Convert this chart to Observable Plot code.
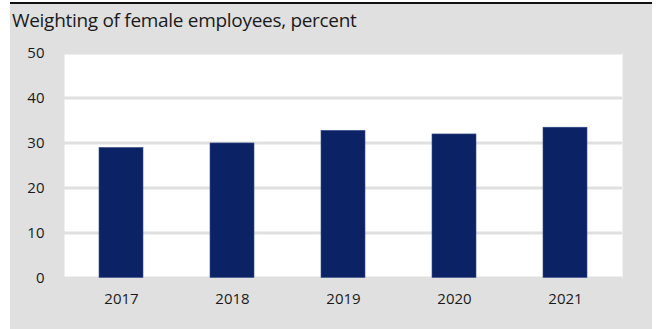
<!DOCTYPE html>
<html>
<head>
<meta charset="utf-8">
<script src="https://cdn.jsdelivr.net/npm/d3@7"></script>
<script src="https://cdn.jsdelivr.net/npm/@observablehq/plot@0.6"></script>
<style>
  html, body { margin: 0; padding: 0; background: #ffffff; }
  #frame {
    position: absolute; left: 10px; top: 2px; width: 642px; height: 325px;
    background: #e0e0e0; border-top: 2px solid #111;
    font-family: "Open Sans", sans-serif;
  }
  #title {
    position: absolute; left: 2px; top: 6px; font-size: 19px; line-height: 20px;
    color: #1a1a1a; white-space: nowrap; letter-spacing: -0.3px;
  }
  #chart { position: absolute; left: 0; top: 0; }
</style>
</head>
<body>
<div id="frame">
  <div id="chart"></div>
  <div id="title">Weighting of female employees, percent</div>
</div>
<script>
const years = ["2017", "2018", "2019", "2020", "2021"];
const weights = [28.9, 29.9, 32.7, 31.9, 33.4];
const yTicks = [0, 10, 20, 30, 40, 50];

const data = years.map((y, i) => ({year: y, value: weights[i]}));

const chart = Plot.plot({
  width: 642,
  height: 325,
  marginLeft: 54,
  marginRight: 30,
  marginTop: 48.5,
  marginBottom: 51.5,
  style: {background: "transparent", fontFamily: "Open Sans, sans-serif", fontSize: "15px", color: "#1a1a1a"},
  x: {domain: years, paddingInner: 0.6, paddingOuter: 0.3, label: null, tickSize: 0, tickPadding: 15},
  y: {domain: [0, 50], ticks: yTicks, label: null, tickSize: 0, tickPadding: 20},
  marks: [
    Plot.frame({fill: "white", stroke: null}),
    Plot.gridY(yTicks, {stroke: "#e0e0e0", strokeWidth: 3, strokeOpacity: 1}),
    Plot.barY(data, {x: "year", y: "value", fill: "#0b2265", stroke: "#3b4f8c", strokeWidth: 0.6})
  ]
});
document.getElementById("chart").appendChild(chart);
</script>
</body>
</html>
